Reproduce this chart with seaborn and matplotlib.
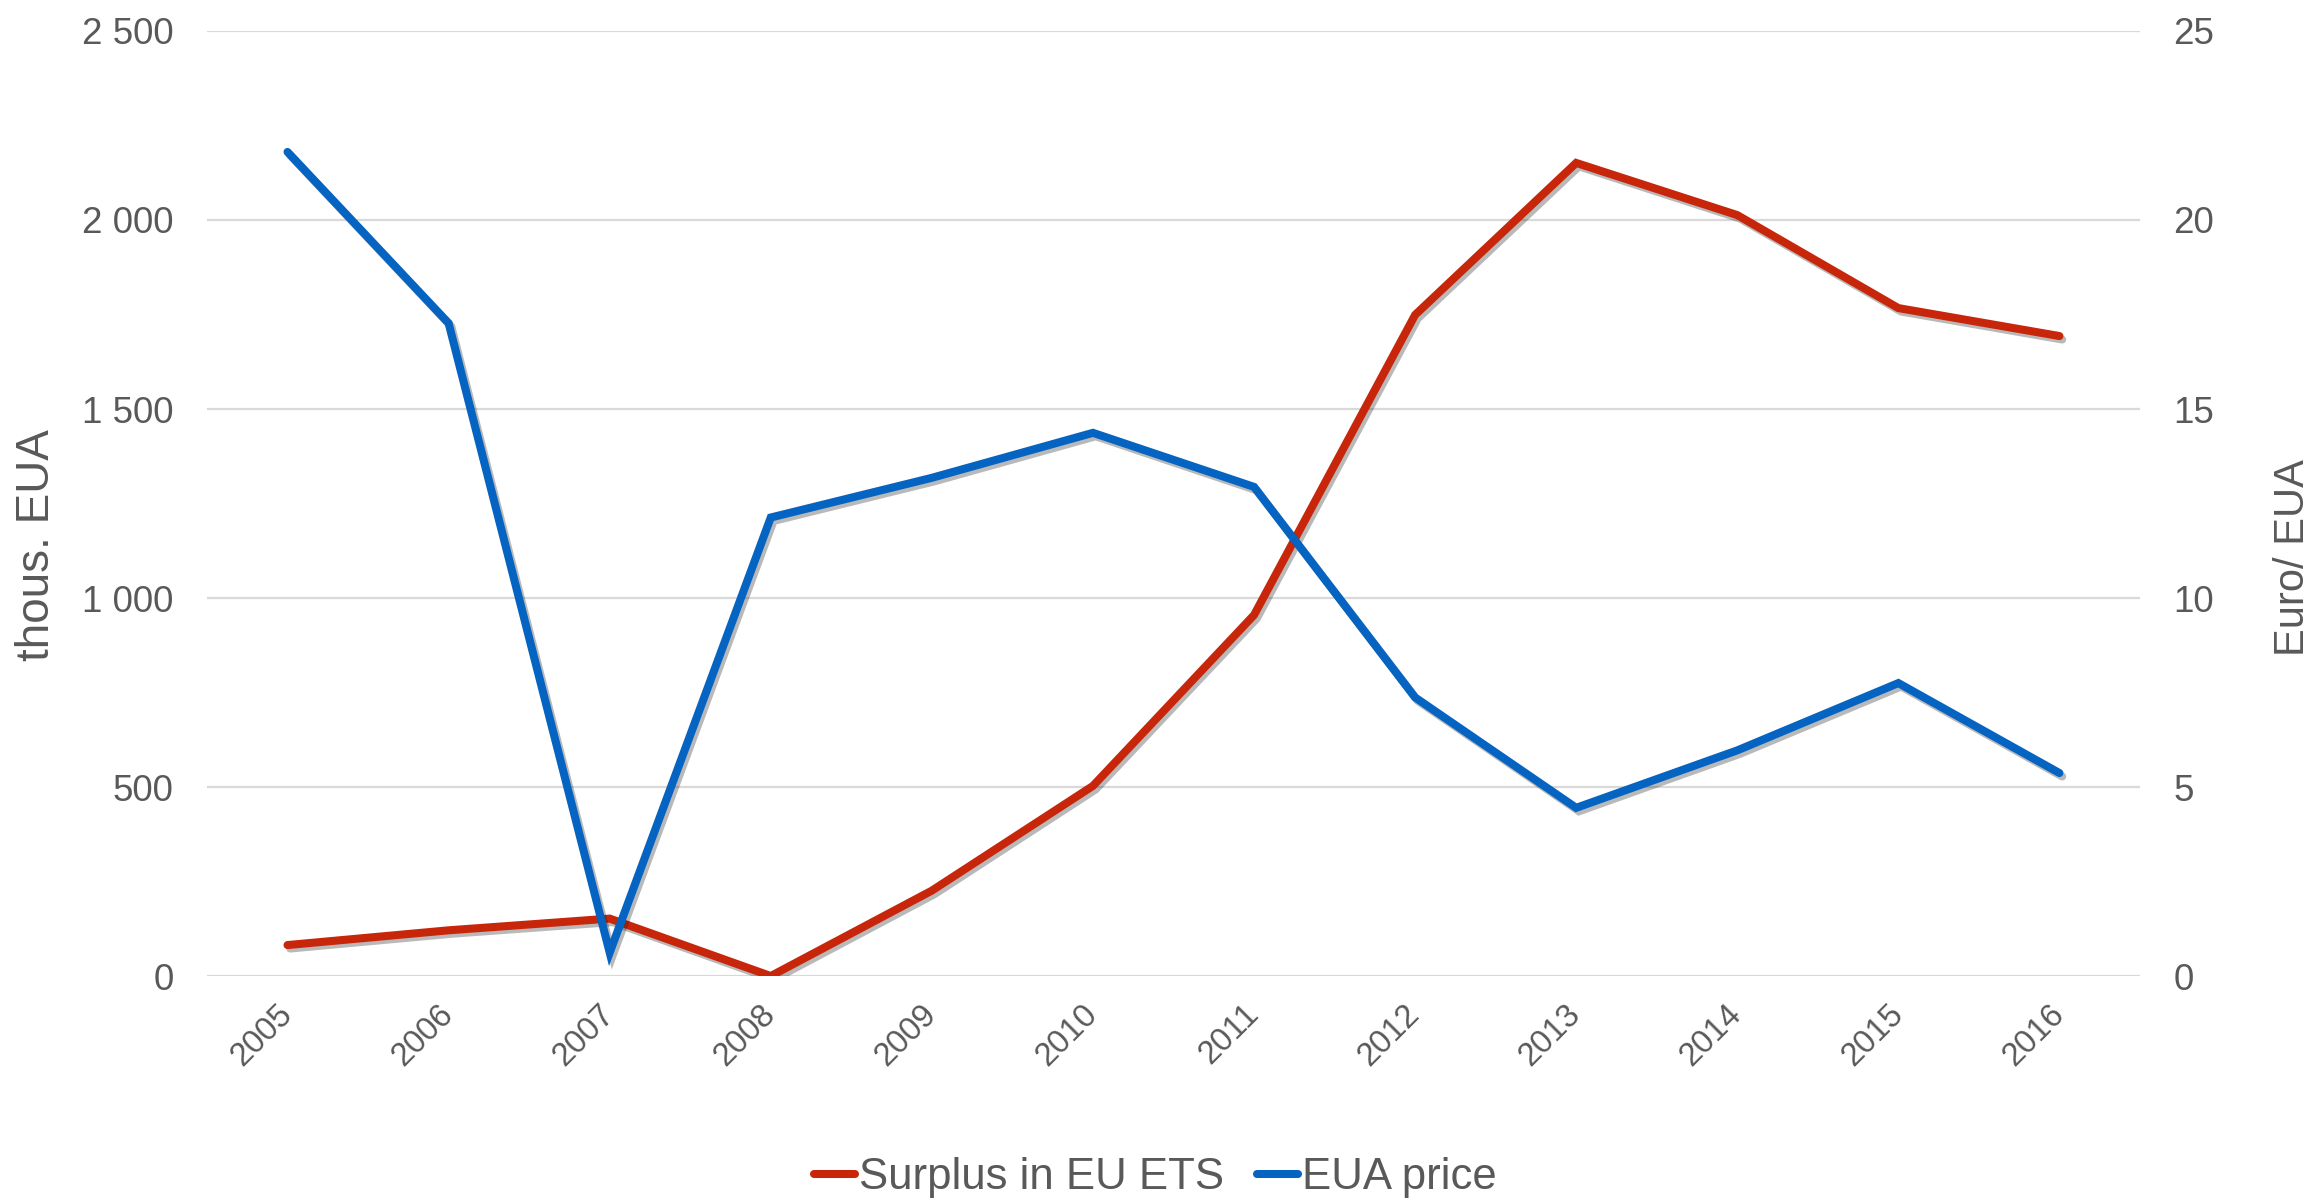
import numpy as np
import pandas as pd
import matplotlib
matplotlib.use("Agg")
import matplotlib.pyplot as plt
import matplotlib.patheffects as pe
import matplotlib.ticker as tkr
from matplotlib.lines import Line2D
import seaborn as sns

# data
years = ["2005", "2006", "2007", "2008", "2009", "2010",
         "2011", "2012", "2013", "2014", "2015", "2016"]
surplus = [82, 121, 152, 0, 226, 503, 955, 1749, 2151, 2013, 1767, 1693]  # thous. EUA
price = [21.8, 17.27, 0.62, 12.13, 13.18, 14.37, 12.94, 7.37, 4.45, 5.97, 7.75, 5.37]  # Euro/EUA

red = "#C8260A"
blue = "#0563C1"
txt = "#595959"
grid_c = "#D9D9D9"

sns.set_theme(style="white")
plt.rcParams['font.family'] = ['Liberation Sans', 'DejaVu Sans']

df = pd.DataFrame({"year": years, "surplus": surplus, "price": price})

fig = plt.figure(figsize=(23.1, 12.01), dpi=100)
ax = fig.add_axes([0.0896, 0.1873, 0.9264 - 0.0896, 0.9742 - 0.1873])
ax2 = ax.twinx()

shadow = [pe.SimpleLineShadow(offset=(2, -2.5), alpha=0.3, shadow_color='k'), pe.Normal()]
lw = 5.8

sns.lineplot(data=df, x="year", y="surplus", ax=ax, color=red, linewidth=lw,
             solid_capstyle='round', solid_joinstyle='miter', zorder=3)
sns.lineplot(data=df, x="year", y="price", ax=ax2, color=blue, linewidth=lw,
             solid_capstyle='round', solid_joinstyle='miter', zorder=3)
for a in (ax, ax2):
    for ln in a.get_lines():
        ln.set_path_effects(shadow)

ax.set_xlim(-0.5, len(years) - 0.5)
ax.set_ylim(0, 2500)
ax2.set_ylim(0, 25)
ax.set_yticks(np.arange(0, 2501, 500))
ax2.set_yticks(np.arange(0, 26, 5))
ax.yaxis.set_major_formatter(tkr.FuncFormatter(lambda x, pos: "{:,.0f}".format(x).replace(",", " ")))

ax.grid(axis='y', color=grid_c, linewidth=1.6)
ax.grid(axis='x', visible=False)
ax2.grid(False)
ax.set_axisbelow(True)
for a in (ax, ax2):
    for s in a.spines.values():
        s.set_visible(False)

ax.tick_params(axis='y', length=0, pad=24, labelsize=26.5, labelcolor=txt)
ax2.tick_params(axis='y', length=0, pad=24, labelsize=26.5, labelcolor=txt)
ax.tick_params(axis='x', length=0, pad=24, labelsize=23.5, labelcolor=txt)
for lbl in ax.get_xticklabels():
    lbl.set_rotation(45)
    lbl.set_ha('right')
    lbl.set_va('center')
    lbl.set_rotation_mode('anchor')

ax.set_xlabel("")
ax.set_ylabel("thous. EUA", fontsize=33, color=txt)
ax.yaxis.set_label_coords(-0.0766, 0.456)
ax2.set_ylabel("Euro/ EUA", fontsize=30, color=txt)
ax2.yaxis.set_label_coords(1.0688, 0.443)

handles = [Line2D([0], [0], color=red, linewidth=lw, solid_capstyle='round'),
           Line2D([0], [0], color=blue, linewidth=lw, solid_capstyle='round')]
leg = fig.legend(handles, ["Surplus in EU ETS", "EUA price"], loc='center',
                 bbox_to_anchor=(0.5, 23 / 1201), ncol=2, frameon=False,
                 fontsize=31.5, handlelength=0.95, handletextpad=0.08, columnspacing=0.75)
for t in leg.get_texts():
    t.set_color(txt)

fig.savefig("out.png", dpi=100, facecolor='white')
